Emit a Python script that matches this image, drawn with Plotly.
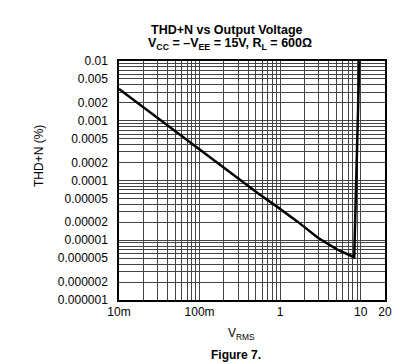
import plotly.graph_objects as go

# Data
v_rms = [0.01, 0.02, 0.05, 0.1, 0.2, 0.33, 0.53, 0.94, 1.66, 2.94, 5.2, 8.3, 9.6]
thd_n = [0.0034, 0.00168, 0.000662, 0.000327, 0.000161, 0.0000970, 0.0000610,
         0.0000355, 0.0000203, 0.0000110, 0.00000690, 0.0000052, 0.01]

x_tick_vals = [0.01, 0.1, 1, 10, 20]
x_tick_text = ["10m", "100m", "1", "10", "20"]
y_tick_vals = [0.01, 0.005, 0.002, 0.001, 0.0005, 0.0002, 0.0001, 0.00005,
               0.00002, 0.00001, 0.000005, 0.000002, 0.000001]
y_tick_text = ["0.01", "0.005", "0.002", "0.001", "0.0005", "0.0002", "0.0001",
               "0.00005", "0.00002", "0.00001", "0.000005", "0.000002", "0.000001"]

x_grid = [m * 10 ** e for e in (-2, -1, 0) for m in range(1, 10)] + [10, 20]
y_grid = [m * 10 ** e for e in (-6, -5, -4, -3) for m in range(1, 10)] + [0.01]

FONT = "Liberation Sans, Arial, sans-serif"

fig = go.Figure()
fig.add_trace(go.Scatter(x=v_rms, y=thd_n, mode="lines",
                         line=dict(color="black", width=2.5), showlegend=False))

grid_col = "#444444"
fig.update_xaxes(type="log", range=[-2, 1.30103],
                 tickvals=x_tick_vals, ticktext=x_tick_text,
                 showgrid=False, ticks="", ticklabelstandoff=0,
                 minor=dict(tickvals=x_grid, showgrid=True, gridcolor=grid_col, gridwidth=1, ticks=""),
                 showline=True, linecolor="black", linewidth=1.5, mirror=True,
                 tickfont=dict(family=FONT, size=12, color="black"), zeroline=False)
fig.update_yaxes(type="log", range=[-6, -2],
                 tickvals=y_tick_vals, ticktext=y_tick_text,
                 showgrid=False, ticks="", ticklabelstandoff=7,
                 minor=dict(tickvals=y_grid, showgrid=True, gridcolor=grid_col, gridwidth=1, ticks=""),
                 showline=True, linecolor="black", linewidth=1.5, mirror=True,
                 tickfont=dict(family=FONT, size=12, color="black"), zeroline=False)

W, H = 417, 364
L, R, T, B = 111, 40, 53, 72
pw, ph = W - L - R, H - T - B

def px(x):
    return (x - L) / pw

def py(y):
    return (H - B - y) / ph

anns = [
    dict(text="<b>THD+N vs Output Voltage</b>", x=px(219), y=py(22), size=12.5),
    dict(text="<b>V<sub>CC</sub> = –V<sub>EE</sub> = 15V, R<sub>L</sub> = 600Ω</b>", x=px(222), y=py(36), size=12.5),
    dict(text="V<sub>RMS</sub>", x=px(233), y=py(326), size=12),
    dict(text="<b>Figure 7.</b>", x=px(228), y=py(347), size=12),
]
annotations = [dict(text=a["text"], x=a["x"], y=a["y"], xref="paper", yref="paper",
                    showarrow=False, xanchor="center", yanchor="middle",
                    font=dict(family=FONT, size=a["size"], color="black")) for a in anns]
annotations.append(dict(text="THD+N (%)", x=px(31), y=py(148), xref="paper", yref="paper",
                        showarrow=False, textangle=-90, xanchor="center", yanchor="middle",
                        font=dict(family=FONT, size=12, color="black")))

fig.update_layout(width=W, height=H, margin=dict(l=L, r=R, t=T, b=B),
                  paper_bgcolor="white", plot_bgcolor="white",
                  annotations=annotations, showlegend=False)

fig.write_html("out.html")
